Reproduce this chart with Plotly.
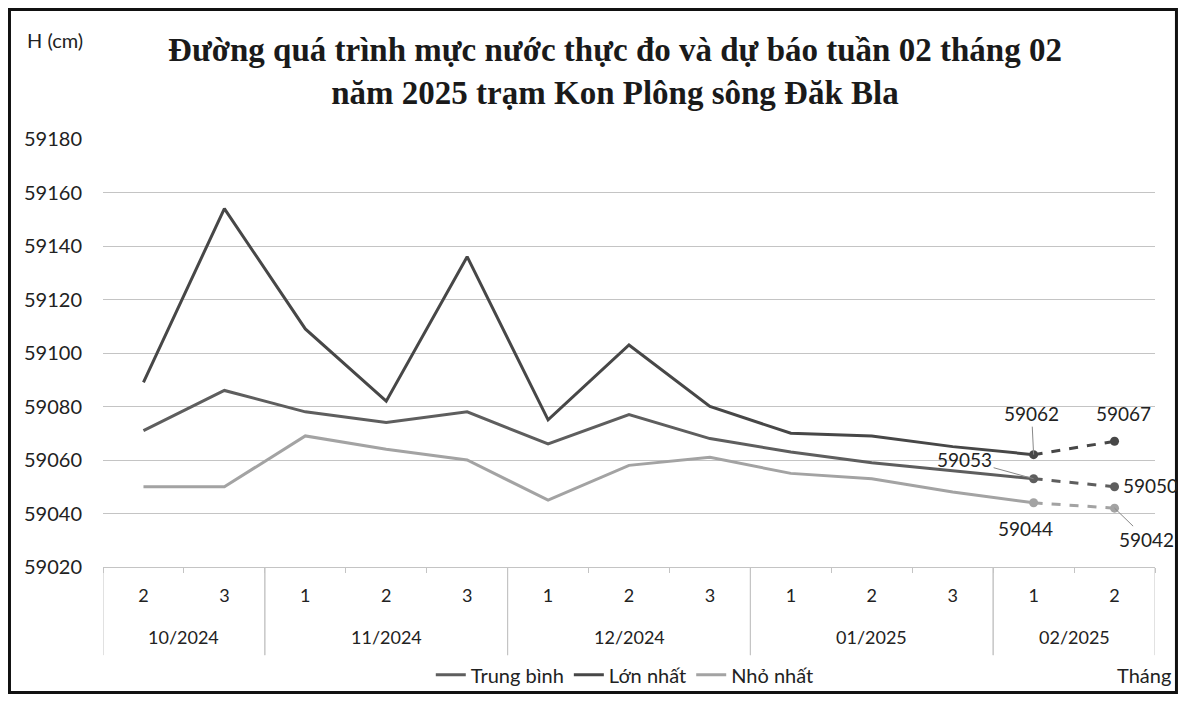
import plotly.graph_objects as go

months = ["10/2024", "10/2024", "11/2024", "11/2024", "11/2024",
          "12/2024", "12/2024", "12/2024", "01/2025", "01/2025", "01/2025",
          "02/2025", "02/2025"]
weeks = ["2", "3", "1", "2", "3", "1", "2", "3", "1", "2", "3", "1", "2"]

trung_binh = [59071, 59086, 59078, 59074, 59078, 59066, 59077, 59068, 59063, 59059, 59056, 59053]
lon_nhat = [59089, 59154, 59109, 59082, 59136, 59075, 59103, 59080, 59070, 59069, 59065, 59062]
nho_nhat = [59050, 59050, 59069, 59064, 59060, 59045, 59058, 59061, 59055, 59053, 59048, 59044]

tb_forecast = [59053, 59050]
ln_forecast = [59062, 59067]
nn_forecast = [59044, 59042]

c_tb = "#5e5e5e"
c_ln = "#474747"
c_nn = "#a3a3a3"
grid_c = "#c4c4c4"
txt_c = "#222222"
sans = "Lato, sans-serif"

idx = list(range(len(weeks)))
n_obs = len(trung_binh)
x_obs = idx[:n_obs]
x_fc = idx[n_obs - 1:]

fig = go.Figure()
for name, vals, fc, col in [("Trung bình", trung_binh, tb_forecast, c_tb),
                            ("Lớn nhất", lon_nhat, ln_forecast, c_ln),
                            ("Nhỏ nhất", nho_nhat, nn_forecast, c_nn)]:
    fig.add_trace(go.Scatter(x=x_obs, y=vals, name=name, mode="lines",
                             line=dict(color=col, width=3)))
    fig.add_trace(go.Scatter(x=x_fc, y=fc, mode="lines+markers", showlegend=False,
                             line=dict(color=col, width=3, dash="dash"),
                             marker=dict(color=col, size=9)))

lab_font = dict(family=sans, size=19, color=txt_c)
ann = []
ann.append(dict(x=x_obs[-1], y=lon_nhat[-1], text=str(lon_nhat[-1]), showarrow=True,
                ax=-2, ay=-41, arrowhead=0, arrowwidth=1, arrowcolor="#888888",
                standoff=0, font=lab_font))
ann.append(dict(x=x_fc[-1], y=ln_forecast[-1], text=str(ln_forecast[-1]), showarrow=False,
                xshift=9, yshift=28, font=lab_font))
ann.append(dict(x=x_obs[-1], y=trung_binh[-1], text=str(trung_binh[-1]), showarrow=True,
                ax=-69, ay=-19, arrowhead=0, arrowwidth=1, arrowcolor="#888888",
                standoff=0, font=lab_font))
ann.append(dict(x=x_fc[-1], y=tb_forecast[-1], text=str(tb_forecast[-1]), showarrow=False,
                xshift=36, yshift=1, font=lab_font))
ann.append(dict(x=x_obs[-1], y=nho_nhat[-1], text=str(nho_nhat[-1]), showarrow=False,
                xshift=-8, yshift=-26, font=lab_font))
ann.append(dict(x=x_fc[-1], y=nn_forecast[-1], text=str(nn_forecast[-1]), showarrow=True,
                ax=32, ay=31, arrowhead=0, arrowwidth=1, arrowcolor="#888888",
                standoff=0, font=lab_font))
ann.append(dict(xref="paper", yref="paper", x=-0.046, y=1.231, text="H (cm)",
                xanchor="center", yanchor="middle", showarrow=False,
                font=dict(family=sans, size=20, color=txt_c)))
ann.append(dict(xref="paper", yref="paper", x=1.017, y=-0.252, text="Tháng",
                xanchor="right", yanchor="middle", showarrow=False,
                font=dict(family=sans, size=20, color=txt_c)))

# month group labels and dividers
shapes = []
groups = []
for i, m in enumerate(months):
    if not groups or groups[-1][0] != m:
        groups.append([m, i, i])
    else:
        groups[-1][2] = i
for m, a, b in groups:
    ann.append(dict(x=(a + b) / 2, yref="paper", y=-0.164, text=m, showarrow=False,
                    xanchor="center", yanchor="middle",
                    font=dict(family=sans, size=18, color=txt_c)))
    for bnd in (a - 0.5, b + 0.5):
        shapes.append(dict(type="line", xref="x", yref="paper", x0=bnd, x1=bnd,
                           y0=0, y1=-0.206, line=dict(color=grid_c, width=1)))

shapes.append(dict(type="rect", xref="paper", yref="paper",
                   x0=-0.0889, x1=1.0204, y0=-0.2932, y1=1.3026,
                   line=dict(color="#111111", width=3)))

fig.update_layout(
    width=1170, height=686,
    margin=dict(l=95, r=23, t=131, b=127, autoexpand=False),
    paper_bgcolor="white", plot_bgcolor="white",
    title=dict(text="<b>Đường quá trình mực nước thực đo và dự báo tuần 02 tháng 02<br>năm 2025 trạm Kon Plông sông Đăk Bla</b>",
               x=0.5188, xanchor="center", y=0.9225, yanchor="middle",
               font=dict(family="Liberation Serif, serif", size=33, color="#1a1a1a")),
    font=dict(family=sans, size=18, color=txt_c),
    showlegend=True,
    legend=dict(orientation="h", x=0.496, xanchor="center", y=-0.252, yanchor="middle",
                font=dict(family=sans, size=20, color=txt_c),
                bgcolor="rgba(0,0,0,0)"),
    annotations=ann,
    shapes=shapes,
)
fig.update_yaxes(range=[59020, 59180], dtick=20, showgrid=True, gridcolor=grid_c,
                 gridwidth=1, zeroline=False, showline=False, ticks="",
                 tickformat="d", ticklabelstandoff=20,
                 tickfont=dict(family=sans, size=20, color=txt_c))
fig.update_xaxes(range=[-0.5, len(weeks) - 0.5], tickmode="array", tickvals=idx,
                 ticktext=weeks, showgrid=False, zeroline=False, showline=True,
                 linecolor=grid_c, linewidth=1, ticks="", ticklabelstandoff=12,
                 minor=dict(ticks="outside", ticklen=5, tickcolor=grid_c,
                            tickmode="linear", tick0=-0.5, dtick=1, showgrid=False),
                 tickfont=dict(family=sans, size=18, color=txt_c))

fig.write_html("out.html")
